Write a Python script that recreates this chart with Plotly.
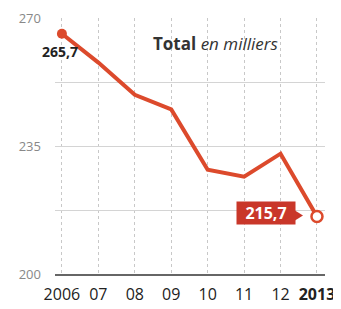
import plotly.graph_objects as go

years = [2006, 2007, 2008, 2009, 2010, 2011, 2012, 2013]
totals = [265.7, 257.8, 249.0, 245.0, 228.5, 226.6, 232.9, 215.7]
year_labels = ["2006", "07", "08", "09", "10", "11", "12", "<b>2013</b>"]
y_ticks = [200, 217.5, 235, 252.5, 270]
y_labels = ["200", "", "235", "", "270"]

RED = "#dc4a2c"
DARKRED = "#c9372a"
FONT = "Open Sans"

fig = go.Figure()
fig.add_trace(go.Scatter(
    x=years, y=totals, mode="lines",
    line=dict(color=RED, width=4), hoverinfo="skip", showlegend=False,
))
fig.add_trace(go.Scatter(
    x=[years[0]], y=[totals[0]], mode="markers",
    marker=dict(color=RED, size=10, line=dict(width=0)), showlegend=False,
))
fig.add_trace(go.Scatter(
    x=[years[-1]], y=[totals[-1]], mode="markers",
    marker=dict(color="white", size=11, line=dict(color=RED, width=2.5)), showlegend=False,
))

def fmt(v):
    return f"{v:.1f}".replace(".", ",")

fig.add_annotation(
    x=years[0], y=totals[0], text=f"<b>{fmt(totals[0])}</b>", showarrow=False,
    xanchor="center", yanchor="middle", xshift=-2, yshift=-18,
    font=dict(family=FONT, size=14, color="#222"),
)
fig.add_annotation(
    x=years[-1], y=totals[-1], text=f"<b>{fmt(totals[-1])}</b>", showarrow=False,
    xanchor="right", yanchor="middle", xshift=-21, yshift=4,
    font=dict(family=FONT, size=16, color="white"),
    bgcolor=DARKRED, borderpad=1, width=56, height=20, align="center",
)
fig.add_shape(
    type="path", xref="x", yref="y", xsizemode="pixel", ysizemode="pixel",
    xanchor=years[-1], yanchor=totals[-1],
    path="M -22 6 L -14 1 L -22 -4 Z", fillcolor=DARKRED, line=dict(width=0),
)
fig.add_annotation(
    xref="paper", yref="paper", x=0.355, y=0.902, xanchor="left", yanchor="middle",
    text="<b>Total</b> <i>en milliers</i>", showarrow=False,
    font=dict(family=FONT, size=17, color="#333"),
)

fig.update_layout(
    width=333, height=301,
    margin=dict(l=47, r=16, t=10, b=35, autoexpand=False),
    paper_bgcolor="white", plot_bgcolor="white",
    font=dict(family=FONT),
)
fig.update_xaxes(
    range=[2005.81, 2013.22], tickvals=years, ticktext=year_labels,
    showgrid=True, gridcolor="#c8c8c8", griddash="dot", gridwidth=1,
    showline=True, linecolor="#666", linewidth=2, ticks="",
    ticklabelstandoff=5, automargin=False,
    tickfont=dict(family=FONT, size=16, color="#222"), zeroline=False,
)
fig.update_yaxes(
    range=[200, 270], tickvals=y_ticks, ticktext=y_labels,
    showgrid=True, gridcolor="#d4d4d4", gridwidth=1, zeroline=False,
    ticks="", ticklabelstandoff=13, automargin=False,
    tickfont=dict(family=FONT, size=13, color="#888"),
)

fig.write_html("out.html")
